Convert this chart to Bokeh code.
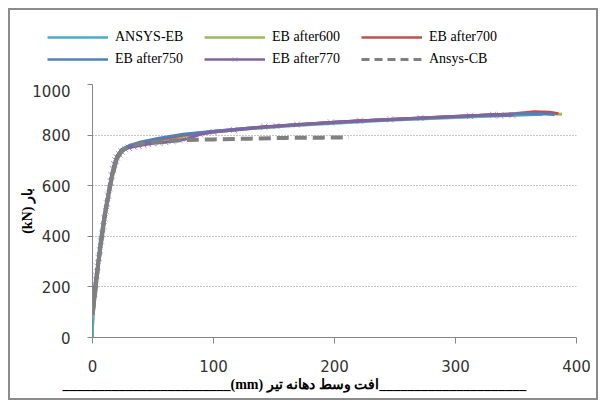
from bokeh.plotting import figure
from bokeh.models import Legend, LegendItem, Title, Range1d
from bokeh.layouts import column
from bokeh.embed import file_html
from bokeh.resources import INLINE

# ---- data (deflection mm, load kN) ----
ansys_eb_x = [0, 0, 1, 3, 6, 10, 14, 18, 21, 25, 30, 40, 55, 75, 100, 130, 160, 200, 240, 280, 320, 350, 372]
ansys_eb_y = [0, 40, 110, 220, 370, 495, 600, 680, 718, 742, 755, 768, 782, 798, 812, 825, 836, 847, 858, 866, 874, 878, 882]

eb600_x = [0, 1, 4, 8, 12, 16, 20, 24, 30, 40, 55, 75, 100, 130, 160, 200, 240, 280, 320, 350, 370, 388]
eb600_y = [80, 130, 260, 400, 530, 640, 712, 738, 752, 765, 778, 795, 812, 826, 836, 850, 860, 868, 876, 882, 887, 882]

eb700_x = [0, 1, 4, 8, 12, 16, 20, 24, 30, 40, 55, 75, 100, 130, 160, 200, 240, 280, 320, 350, 365, 378, 385]
eb700_y = [90, 135, 265, 405, 535, 645, 715, 742, 756, 770, 784, 800, 814, 828, 838, 851, 861, 870, 878, 885, 892, 890, 884]

eb750_x = [0, 1, 4, 8, 12, 16, 20, 24, 30, 40, 55, 75, 100, 130, 160, 200, 240, 280, 320, 350, 370, 382]
eb750_y = [100, 140, 270, 410, 540, 648, 716, 743, 758, 773, 788, 803, 815, 828, 838, 851, 861, 869, 877, 883, 884, 881]

eb770_x = [0, 1, 2, 3, 4, 5, 6, 7, 8, 9, 10, 11, 12, 13, 14, 15, 16, 17, 18, 19, 20, 22, 24, 27, 30, 34, 38, 42,
           46, 50, 55, 60, 66, 72, 78, 84, 89, 100, 117, 142, 152, 169, 197, 221, 246, 271, 312, 331, 337, 347]
eb770_y = [140, 175, 210, 245, 280, 315, 345, 380, 410, 440, 470, 500, 530, 560, 590, 615, 640, 665, 685, 700, 712,
           725, 735, 745, 750, 755, 758, 762, 765, 768, 770, 772, 776, 780, 785, 795, 803, 812, 820, 833, 836, 842,
           850, 857, 862, 868, 876, 880, 878, 879]

ansys_cb_x = [0, 2, 5, 10, 16, 20, 24, 28, 38, 50, 63, 80, 100, 130, 160, 190, 212]
ansys_cb_y = [90, 170, 300, 480, 634, 705, 735, 750, 765, 772, 778, 781, 783, 786, 789, 790, 791]

x_ticks = [0, 100, 200, 300, 400]
y_ticks = [0, 200, 400, 600, 800, 1000]

labels = ["ANSYS-EB", "EB after600", "EB after700", "EB after750", "EB after770", "Ansys-CB"]
colors = ["#4BACC6", "#9BBB59", "#C0504D", "#4F81BD", "#8064A2", "#808080"]

BORDER = "#8c8c8c"


def draw_series(fig, lw=3, dash="12 6", cb_width=4):
    rs = [
        fig.line(ansys_eb_x, ansys_eb_y, line_color=colors[0], line_width=lw),
        fig.line(eb600_x, eb600_y, line_color=colors[1], line_width=lw),
        fig.line(eb700_x, eb700_y, line_color=colors[2], line_width=lw),
        fig.line(eb750_x, eb750_y, line_color=colors[3], line_width=lw),
        fig.line(eb770_x, eb770_y, line_color=colors[4], line_width=lw),
        fig.scatter(eb770_x, eb770_y, marker="x", size=9, line_color=colors[4], line_width=1, line_alpha=0.6),
        fig.line(ansys_cb_x, ansys_cb_y, line_color=colors[5], line_width=cb_width, line_dash=dash),
    ]
    return rs


# ---- main plot ----
p = figure(width=590, height=316, output_backend="svg", toolbar_location=None,
           x_range=Range1d(0, 400), y_range=Range1d(0, 1000),
           min_border_left=84, min_border_right=22, min_border_top=0, min_border_bottom=63)
p.frame_align = False
p.outline_line_color = None
p.background_fill_color = "white"
p.border_fill_alpha = 0
p.styles = {"background-color": "white",
            "box-shadow": f"inset 2px 0 0 0 {BORDER}, inset -2px 0 0 0 {BORDER}, inset 0 -2px 0 0 {BORDER}"}

draw_series(p)
p.line(ansys_cb_x[:8], ansys_cb_y[:8], line_color=colors[5], line_width=4)

p.xaxis.ticker = x_ticks
p.yaxis.ticker = y_ticks
for ax in (p.xaxis[0], p.yaxis[0]):
    ax.axis_line_color = "#868686"
    ax.major_tick_line_color = "#868686"
    ax.minor_tick_line_color = None
    ax.major_tick_in = 0
    ax.major_label_text_font = "DejaVu Sans"
    ax.major_label_text_font_size = "15px"
    ax.major_label_text_color = "#333333"
p.xaxis.major_tick_out = 6
p.xaxis.major_label_standoff = 16
p.yaxis.major_tick_out = 5
p.yaxis.major_label_standoff = 17

p.xgrid.grid_line_color = None
p.ygrid.grid_line_color = "#8a8a8a"
p.ygrid.grid_line_dash = "1 2"
p.ygrid.grid_line_width = 1

p.yaxis.axis_label = "(kN) بار"
p.yaxis.axis_label_text_font = "Liberation Serif"
p.yaxis.axis_label_text_font_style = "bold"
p.yaxis.axis_label_text_font_size = "14px"
p.yaxis.axis_label_text_color = "black"
p.yaxis.axis_label_standoff = -6

xt = Title(text="________________________(mm) افت وسط دهانه تیر_____________________",
           align="left", offset=-30, text_font="Liberation Serif", text_font_style="bold",
           text_font_size="14px", text_color="black", standoff=0)
p.add_layout(xt, "below")

# ---- legend strip (same series, ranges placed so the lines stay off-frame) ----
lg = figure(width=590, height=76, output_backend="svg", toolbar_location=None,
            x_range=Range1d(-20, -10), y_range=Range1d(-20, -10), min_border=0,
            x_axis_location=None, y_axis_location=None)
lg.frame_align = False
lg.grid.visible = False
lg.outline_line_color = None
lg.background_fill_alpha = 0
lg.border_fill_alpha = 0
lg.styles = {"background-color": "white",
             "box-shadow": f"inset 2px 0 0 0 {BORDER}, inset -2px 0 0 0 {BORDER}, inset 0 2px 0 0 {BORDER}"}

g = draw_series(lg, lw=2.5, dash="8 5", cb_width=3)
items = [
    LegendItem(label=labels[0], renderers=[g[0]]),
    LegendItem(label=labels[1], renderers=[g[1]]),
    LegendItem(label=labels[2], renderers=[g[2]]),
    LegendItem(label=labels[3], renderers=[g[3]]),
    LegendItem(label=labels[4], renderers=[g[4], g[5]]),
    LegendItem(label=labels[5], renderers=[g[6]]),
]
legend = Legend(items=items, orientation="horizontal", nrows=2,
                location=(39, 17), padding=0, margin=0, spacing=6,
                glyph_width=61, glyph_height=16, label_width=83, label_standoff=7,
                label_text_font="Liberation Serif", label_text_font_size="14px",
                label_text_color="black", border_line_color=None, background_fill_alpha=0)
lg.add_layout(legend, "center")

layout = column(lg, p, spacing=0, margin=(8, 0, 0, 8))
open("out.html", "w").write(file_html(layout, INLINE))
